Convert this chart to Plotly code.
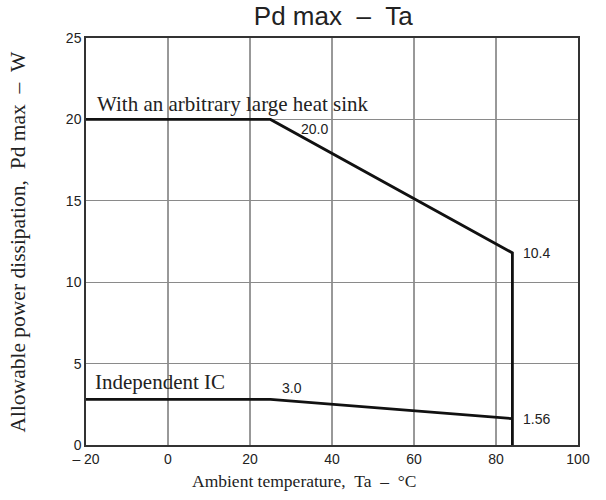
import plotly.graph_objects as go

# Data
heat_sink_ta = [-20, 25, 84, 84]
heat_sink_pd = [20.0, 20.0, 11.8, 0.0]
ic_ta = [-20, 25, 84]
ic_pd = [2.8, 2.8, 1.62]

x_tick_vals = [-20, 0, 20, 40, 60, 80, 100]
x_tick_text = ["\u2013 20", "0", "20", "40", "60", "80", "100"]
y_tick_vals = [0, 5, 10, 15, 20, 25]
y_tick_text = ["0", "5", "10", "15", "20", "25"]

value_labels = [
    ("20.0", 35.8, 19.4),
    ("3.0", 30.3, 3.5),
    ("10.4", 89.8, 11.8),
    ("1.56", 89.8, 1.58),
]

SANS = "Liberation Sans, Arial, sans-serif"
SERIF = "Liberation Serif, Times New Roman, serif"
NB = "\u00a0"

fig = go.Figure()
fig.add_trace(go.Scatter(x=heat_sink_ta, y=heat_sink_pd, mode="lines",
                         line=dict(color="#111111", width=2.8), showlegend=False))
fig.add_trace(go.Scatter(x=ic_ta, y=ic_pd, mode="lines",
                         line=dict(color="#111111", width=2.8), showlegend=False))

# vertical grid lines (dark) drawn as shapes
for xv in x_tick_vals[1:-1]:
    fig.add_shape(type="line", xref="x", yref="paper", x0=xv, x1=xv, y0=0, y1=1,
                  line=dict(color="#333333", width=1), layer="below")

for text, xv, yv in value_labels:
    fig.add_annotation(x=xv, y=yv, xref="x", yref="y", text=text, showarrow=False,
                       font=dict(family=SANS, size=14, color="#222222"), xanchor="center", yanchor="middle")

fig.add_annotation(x=-17.8, y=20.1, xref="x", yref="y",
                   text="With an arbitrary large heat sink", showarrow=False,
                   font=dict(family=SERIF, size=21, color="#222222"),
                   xanchor="left", yanchor="bottom")
fig.add_annotation(x=-18.3, y=3.0, xref="x", yref="y",
                   text="Independent IC", showarrow=False,
                   font=dict(family=SERIF, size=21, color="#222222"),
                   xanchor="left", yanchor="bottom")

fig.add_annotation(x=0.443, y=-0.06, xref="paper", yref="paper",
                   text="Ambient temperature," + NB * 2 + "Ta" + NB * 2 + "\u2013" + NB * 2 + "\u00b0C",
                   showarrow=False, font=dict(family=SERIF, size=17.5, color="#222222"),
                   xanchor="center", yanchor="top")
fig.add_annotation(x=-0.14, y=0.5, xref="paper", yref="paper",
                   text="Allowable power dissipation," + NB * 2 + "Pd max" + NB * 2 + "\u2013" + NB * 2 + "W",
                   showarrow=False, textangle=-90,
                   font=dict(family=SERIF, size=21.5, color="#222222"),
                   xanchor="center", yanchor="middle")

fig.update_layout(
    width=606, height=500,
    margin=dict(l=86, r=28, t=38, b=55),
    paper_bgcolor="white", plot_bgcolor="white",
    title=dict(text="Pd max" + NB * 2 + "\u2013" + NB * 2 + "Ta", x=0.55, xanchor="center",
               y=0.968, yanchor="middle",
               font=dict(family=SANS, size=26, color="#222222")),
    xaxis=dict(range=[-20, 100], tickvals=x_tick_vals, ticktext=x_tick_text,
               showgrid=False, zeroline=False, showline=True, linecolor="#333333",
               linewidth=1.5, mirror=True, ticks="", ticklen=0,
               tickfont=dict(family=SANS, size=14, color="#222222")),
    yaxis=dict(range=[0, 25], tickvals=y_tick_vals, ticktext=y_tick_text,
               showgrid=True, gridcolor="#8a8a8a", gridwidth=1, zeroline=False,
               showline=True, linecolor="#333333", linewidth=1.5, mirror=True,
               ticks="", tickfont=dict(family=SANS, size=14, color="#222222")),
)

fig.write_html("out.html", config={"displayModeBar": False},
               post_script="document.body.style.margin='0';")
